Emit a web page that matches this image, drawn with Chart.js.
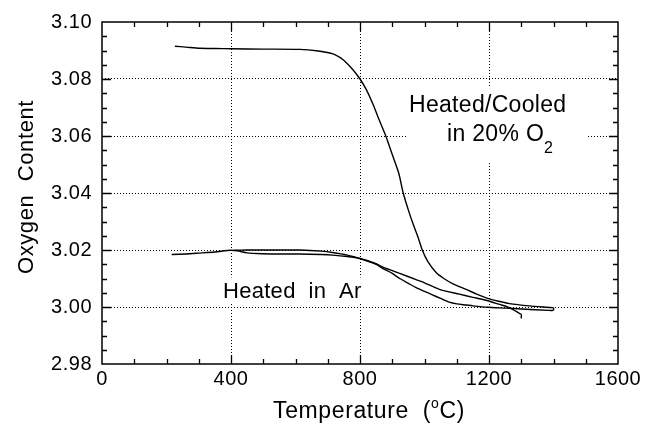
<!DOCTYPE html>
<html>
<head>
<meta charset="utf-8">
<script src="https://cdn.jsdelivr.net/npm/chart.js@4.4.1/dist/chart.umd.min.js"></script>
<style>
  html, body { margin: 0; padding: 0; background: #fff; }
  #chart { display: block; }
</style>
</head>
<body>
<canvas id="chart" width="645" height="424"></canvas>
<script>
    // Axis ticks
    const xTicks = [0, 400, 800, 1200, 1600];
    const yTicks = [2.98, 3.00, 3.02, 3.04, 3.06, 3.08, 3.10];

    // Heated in 20% O2 (upper curve), ends with the short drop at 1400
    const o2Temp = [226, 260, 303, 350, 402, 500, 613, 665, 716, 740, 757, 780, 800, 820, 840, 860, 880, 900, 920, 934,
      950, 965, 980, 993, 1010, 1036, 1060, 1090, 1129, 1160, 1196, 1230, 1263, 1325, 1392, 1400, 1400];
    const o2Oxy = [3.0915, 3.0912, 3.0908, 3.0907, 3.0906, 3.0905, 3.0904, 3.0899, 3.0888, 3.0874, 3.0858, 3.0830, 3.0800,
      3.0762, 3.0712, 3.0655, 3.0600, 3.0535, 3.0470, 3.0400, 3.0340, 3.0290, 3.0245, 3.0200, 3.0160, 3.0121, 3.0100,
      3.0080, 3.0062, 3.0046, 3.0030, 3.0020, 3.0012, 3.0004, 2.9998, 2.9997, 2.9988];

    // Return branch from 1400 back down to 400
    const backTemp = [1400, 1387, 1300, 1250, 1196, 1150, 1129, 1100, 1077, 1050, 1026, 1000, 974, 950, 923, 900, 871, 850,
      800, 760, 715, 680, 613, 550, 500, 450, 410];
    const backOxy = [2.9988, 2.9988, 2.9993, 2.9996, 2.9999, 3.0004, 3.0007, 3.0011, 3.0017, 3.0030, 3.0042, 3.0055, 3.0068,
      3.0083, 3.0100, 3.0118, 3.0135, 3.0150, 3.0170, 3.0182, 3.0191, 3.0196, 3.0200, 3.0200, 3.0200, 3.0200, 3.0199];

    // Heated in Ar
    const arTemp = [216, 260, 300, 350, 400, 420, 450, 500, 550, 613, 680, 715, 760, 800, 850, 871, 923, 974, 1000, 1046,
      1108, 1150, 1196, 1230, 1263, 1294, 1300, 1300];
    const arOxy = [3.0184, 3.0186, 3.0189, 3.0193, 3.0199, 3.0197, 3.0190, 3.0187, 3.0186, 3.0186, 3.0184, 3.0182, 3.0177,
      3.0170, 3.0152, 3.0140, 3.0118, 3.0096, 3.0085, 3.0062, 3.0045, 3.0034, 3.0022, 3.0010, 2.9998, 2.9978, 2.9974, 2.9960];

    const FONT = "'Liberation Sans', Arial, sans-serif";

    const toPoints = (xs, ys) => xs.map((t, i) => ({ x: t, y: ys[i] }));

    // pieces: [text, size, dy]
    function drawPieces(ctx, pieces, x, y) {
      let cx = x;
      pieces.forEach(([text, size, dy]) => {
        ctx.font = size + 'px ' + FONT;
        ctx.fillText(text, cx, y + dy);
        cx += ctx.measureText(text).width;
      });
      return cx - x;
    }

    function piecesWidth(ctx, pieces) {
      let w = 0;
      pieces.forEach(([text, size]) => {
        ctx.font = size + 'px ' + FONT;
        w += ctx.measureText(text).width;
      });
      return w;
    }

    const decorations = {
      id: 'decorations',
      beforeUpdate(chart) { chart.ctx.letterSpacing = '0.5px'; },
      beforeDraw(chart) { chart.ctx.letterSpacing = '0.5px'; },
      beforeDatasetsDraw(chart) {
        const { ctx, scales: { x, y } } = chart;
        ctx.save();
        ctx.fillStyle = '#fff';
        // boxes behind the labels hide the grid
        ctx.fillRect(x.getPixelForValue(946), y.getPixelForValue(3.0768),
          x.getPixelForValue(1507) - x.getPixelForValue(946), y.getPixelForValue(3.0505) - y.getPixelForValue(3.0768));
        ctx.fillRect(x.getPixelForValue(360), y.getPixelForValue(3.0104),
          x.getPixelForValue(825) - x.getPixelForValue(360), y.getPixelForValue(3.0012) - y.getPixelForValue(3.0104));

        ctx.fillStyle = '#000';
        ctx.textBaseline = 'alphabetic';
        ctx.textAlign = 'left';
        ctx.letterSpacing = '0.3px';
        drawPieces(ctx, [['Heated/Cooled', 23, 0]], x.getPixelForValue(952), y.getPixelForValue(3.0684));
        drawPieces(ctx, [['in 20% O', 23, 0], ['2', 16, 12]], x.getPixelForValue(1070), y.getPixelForValue(3.0582));
        drawPieces(ctx, [['Heated  in  Ar', 22, 0]], x.getPixelForValue(375), y.getPixelForValue(3.0032));
        ctx.restore();
      },
      afterDraw(chart) {
        const { ctx, chartArea: a, scales: { x, y } } = chart;
        ctx.save();
        ctx.strokeStyle = '#000';
        ctx.lineWidth = 1.5;
        ctx.strokeRect(a.left, a.top, a.right - a.left, a.bottom - a.top);

        // inward tick marks on all four sides
        ctx.lineWidth = 1.3;
        ctx.beginPath();
        for (let t = 100; t < 1600; t += 100) {
          const px = Math.round(x.getPixelForValue(t)) + 0.5;
          const len = t % 400 === 0 ? 9 : 5;
          ctx.moveTo(px, a.bottom); ctx.lineTo(px, a.bottom - len);
          ctx.moveTo(px, a.top); ctx.lineTo(px, a.top + len);
        }
        for (let k = 1; k < 24; k++) {
          const v = 2.98 + k * 0.005;
          const py = Math.round(y.getPixelForValue(v)) + 0.5;
          const len = k % 4 === 0 ? 9 : 5;
          ctx.moveTo(a.left, py); ctx.lineTo(a.left + len, py);
          ctx.moveTo(a.right, py); ctx.lineTo(a.right - len, py);
        }
        ctx.stroke();

        // axis titles
        ctx.fillStyle = '#000';
        ctx.textBaseline = 'alphabetic';
        ctx.textAlign = 'left';
        ctx.letterSpacing = '0.6px';
        const xt = [['Temperature  (', 23, 0], ['o', 14, -10], ['C)', 23, 0]];
        const w = piecesWidth(ctx, xt);
        drawPieces(ctx, xt, 369 - w / 2, 418);

        ctx.translate(33, 187);
        ctx.rotate(-Math.PI / 2);
        const yt = [['Oxygen  Content', 22, 0]];
        const wy = piecesWidth(ctx, yt);
        drawPieces(ctx, yt, -wy / 2, 0);
        ctx.restore();
      }
    };

    const lineStyle = {
      showLine: true,
      borderColor: '#000',
      borderWidth: 1.4,
      pointRadius: 0,
      tension: 0.25,
      fill: false
    };

    const ctx = document.getElementById('chart').getContext('2d');
    new Chart(ctx, {
      type: 'scatter',
      data: {
        datasets: [
          { label: 'Heated/Cooled in 20% O2', data: toPoints(o2Temp, o2Oxy), ...lineStyle },
          { label: 'Return', data: toPoints(backTemp, backOxy), ...lineStyle },
          { label: 'Heated in Ar', data: toPoints(arTemp, arOxy), ...lineStyle }
        ]
      },
      options: {
        responsive: false,
        animation: false,
        devicePixelRatio: 1,
        layout: { padding: { top: 22, right: 27, left: 0, bottom: 0 } },
        scales: {
          x: {
            type: 'linear',
            min: 0,
            max: 1600,
            afterBuildTicks: scale => { scale.ticks = xTicks.map(v => ({ value: v })); },
            afterFit: scale => { scale.height = 60; },
            ticks: {
              color: '#000',
              font: { family: FONT, size: 20 },
              padding: 3,
              maxRotation: 0,
              callback: value => value
            },
            grid: {
              drawTicks: false,
              lineWidth: 1,
              color: c => (c.tick && (c.tick.value === 0 || c.tick.value === 1600)) ? 'rgba(0,0,0,0)' : '#000'
            },
            border: { display: false, dash: [1, 2] }
          },
          y: {
            type: 'linear',
            min: 2.98,
            max: 3.10,
            afterBuildTicks: scale => { scale.ticks = yTicks.map(v => ({ value: v })); },
            afterFit: scale => { scale.width = 102; },
            ticks: {
              color: '#000',
              font: { family: FONT, size: 20 },
              padding: 10,
              callback: value => value.toFixed(2)
            },
            grid: {
              drawTicks: false,
              lineWidth: 1,
              color: c => (c.tick && (c.tick.value < 2.985 || c.tick.value > 3.095)) ? 'rgba(0,0,0,0)' : '#000'
            },
            border: { display: false, dash: [1, 2] }
          }
        },
        plugins: {
          legend: { display: false },
          tooltip: { enabled: false }
        }
      },
      plugins: [decorations]
    });
</script>
</body>
</html>
